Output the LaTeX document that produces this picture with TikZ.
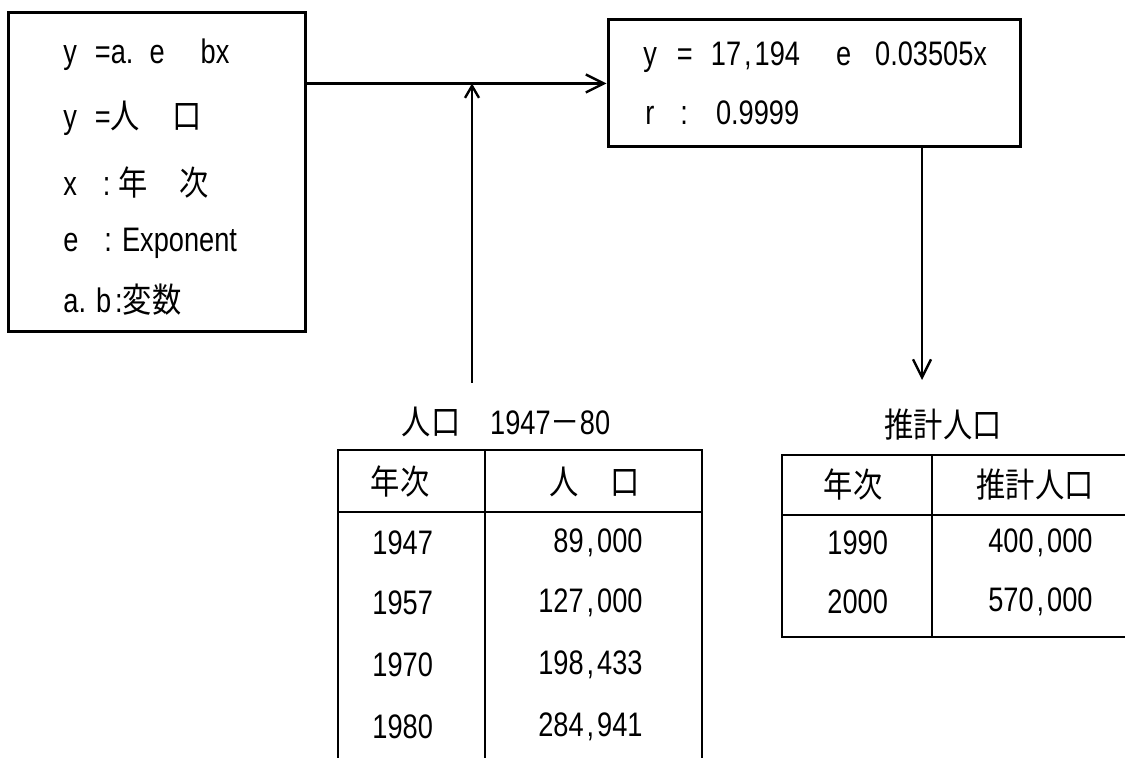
\documentclass[tikz,border=0pt]{standalone}
\usepackage{fontspec}
\setmainfont{Liberation Sans}[FakeStretch=0.8]
\newfontfamily\jp{Noto Sans CJK JP}[FakeStretch=0.86]
\usetikzlibrary{arrows.meta,calc,positioning}
\newcommand\cm{\hspace{1.5pt},\hspace{1.5pt}}
\tikzset{link/.style={line width=1.2pt, -{Straight Barb[length=9pt, width=9pt, line width=1.2pt]}},
  frame/.style={draw, line width=1.5pt, inner sep=0pt},
  rule/.style={line width=1.4pt},
  txt/.style={inner sep=0pt, font=\fontsize{17}{20}\selectfont}}

\begin{document}
\begin{tikzpicture}[x=0.5pt, y=-0.5pt]
  \useasboundingbox (0,0) rectangle (1125,758);
  % boxes
  \node[frame, minimum width=148.5pt, minimum height=159.5pt] (model) at (156.5,172.5) {};
  \node[frame, minimum width=206pt, minimum height=63.5pt] (result) at (814,83.5) {};
  % model text
  \node[txt, anchor=west] (m1) at (63,55) {y\hspace{9pt}=a.\hspace{8pt}e\hspace{18pt}bx};
  \node[txt, anchor=west] (m2) at (63,118) {y\hspace{9pt}={\jp 人\hspace{16pt}口}};
  \node[txt, anchor=west] (m3) at (63,183) {x\hspace{13pt}:\hspace{4pt}{\jp 年\hspace{16pt}次}};
  \node[txt, anchor=west] (m4) at (63,243) {e\hspace{13pt}:\hspace{5pt}Exponent};
  \node[txt, anchor=west] (m5) at (63,300) {a.\hspace{5pt}b\hspace{2pt}:{\jp 変数}};
  % result text
  \node[txt, anchor=west] (r1) at (643,57) {y\hspace{10pt}=\hspace{9pt}17\cm 194\hspace{18pt}e\hspace{12pt}0.03505x};
  \node[txt, anchor=west] (r2) at (645,113) {r\hspace{13pt}:\hspace{14pt}0.9999};
  % connectors
  \coordinate (datain) at (472,383);
  \coordinate (estout) at (922,380);
  \draw[link] (model.east |- result.west) -- (result.west);
  \draw[line width=1.2pt, -{Straight Barb[length=6pt, width=7pt, line width=1.2pt]}] (datain) -- (datain |- result.west);
  \draw[link] (estout |- result.south) -- (estout);
  % observed table
  \node[txt] (t1) at (506,422) {{\jp 人口}\hspace{15pt}1947{\jp －}80};
  \draw[rule] (338,760) |- (702,450) -- (702,760);
  \draw[rule] (338,512) -- (702,512);
  \draw[rule] (485,450) -- (485,760);
  \node[txt] (h1) at (400,482) {\jp 年次};
  \node[txt] (h2) at (595,482) {\jp 人\hspace{16pt}口};
  \foreach \yr/\pop/\y in {1947/89\cm 000/543, 1957/127\cm 000/603, 1970/198\cm 433/665, 1980/284\cm 941/727}{
    \node[txt, anchor=west] at (372,\y) {\yr};
    \node[txt, anchor=east] at (643,\y) {\pop};}
  % estimate table
  \node[txt] (t2) at (943,425) {\jp 推計人口};
  \draw[rule] (1130,455) -| (782,637) -- (1130,637);
  \draw[rule] (782,515) -- (1130,515);
  \draw[rule] (932,455) -- (932,637);
  \node[txt] (h3) at (853,485) {\jp 年次};
  \node[txt] (h4) at (1035,485) {\jp 推計人口};
  \foreach \yr/\pop/\y in {1990/400\cm 000/543, 2000/570\cm 000/602}{
    \node[txt, anchor=west] at (827,\y) {\yr};
    \node[txt, anchor=east] at (1093,\y) {\pop};}
\end{tikzpicture}
\end{document}
